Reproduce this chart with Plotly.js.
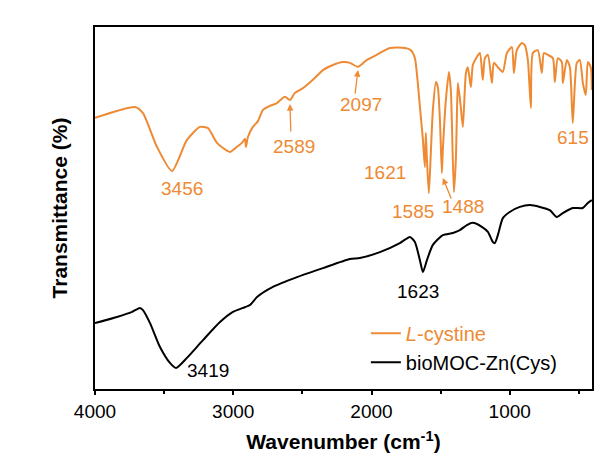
<!DOCTYPE html>
<html>
<head>
<meta charset="utf-8">
<script src="https://cdn.plot.ly/plotly-3.0.1.min.js"></script>
<style>html,body{margin:0;padding:0;background:#fff;}#chart{width:616px;height:459px;}</style>
</head>
<body>
<div id="chart"></div>
<script>
// L-cystine spectrum (wavenumber, transmittance a.u.)
const cystineWn = [4000,3711,3653,3552,3443,3335,3241,3183,3118,3024,2973,2937,2915,2908,2894,2858,2821,2785,2735,2684,2626,2590,2554,2496,2424,2351,2279,2207,2156,2098,2033,1954,1867,1758,1715,1686,1665,1643,1628,1614,1607,1599,1585,1570,1556,1534,1520,1505,1491,1484,1462,1440,1426,1419,1404,1390,1383,1375,1354,1339,1317,1303,1281,1267,1238,1216,1195,1180,1158,1129,1115,1086,1050,1021,985,970,949,913,891,869,847,833,797,768,753,725,688,674,652,623,616,587,565,544,515,493,471,450,435,414,406];
const cystineT = [74.9,77.9,76.2,66.9,60.2,68.8,72.4,72.1,68.0,65.5,66.9,68.0,69.1,66.9,69.6,72.4,74.0,77.1,78.2,79.0,80.7,79.8,81.8,83.1,85.4,88.1,89.5,90.3,90.1,89.0,90.9,92.5,94.2,94.2,93.6,91.4,84.5,75.1,68.8,61.3,70.7,63.3,54.1,66.0,77.1,84.8,83.4,74.3,59.7,66.0,79.8,87.6,82.6,74.3,54.4,63.3,74.3,84.5,77.9,72.4,87.3,88.9,83.4,89.5,91.7,92.8,85.4,91.4,92.3,84.5,90.1,88.9,87.6,92.8,94.5,87.3,93.6,95.6,95.0,90.9,77.6,92.8,93.6,87.3,92.8,92.3,91.4,84.8,91.4,90.3,84.5,90.9,88.9,73.5,90.1,90.9,84.5,81.2,90.3,88.9,82.6];

// bioMOC-Zn(Cys) spectrum
const mocWn = [4000,3841,3732,3675,3653,3602,3530,3458,3414,3335,3219,3096,3002,2929,2879,2828,2713,2539,2351,2156,2084,1939,1795,1722,1686,1650,1628,1599,1556,1484,1411,1361,1310,1267,1202,1158,1122,1108,1086,1050,1000,927,855,782,710,660,616,544,472,435,406];
const mocT = [18.2,19.9,21.3,22.4,21.8,18.2,11.6,7.2,5.8,8.6,13.5,18.5,21.3,22.4,23.2,25.4,28.2,30.9,33.4,35.9,36.2,37.8,40.3,42.0,40.6,35.6,32.3,35.6,39.8,42.5,43.1,43.9,45.3,45.9,44.8,43.4,40.6,40.3,42.5,47.2,48.9,50.3,50.8,50.3,49.4,47.5,48.6,50.0,50.0,51.4,52.2];

// peak labels
const orangeLabels = ["3456","2589","2097","1621","1585","1488","615"];
const orangeLabelWn = [3371,2561,2076,1903,1700,1338,544];
const orangeLabelT = [55.5,67.1,78.7,59.9,48.9,50.3,69.6];
const blackLabels = ["3419","1623"];
const blackLabelWn = [3182,1664];
const blackLabelT = [5.2,26.8];

// arrows: head (wn,T) and tail (wn,T)
const arrowHeadWn = [2590,2098,1484];
const arrowHeadT = [78.7,88.1,58.3];
const arrowTailWn = [2583,2120,1419];
const arrowTailT = [70.7,81.2,52.2];

const orange = '#EE8A33';
const fontFam = 'Arial, "Liberation Sans", sans-serif';

const traces = [
  {x: cystineWn, y: cystineT, type: 'scatter', mode: 'lines', name: "<span style='color:" + orange + "'><i>L</i>-cystine</span>", line: {color: orange, width: 2, shape: 'spline', smoothing: 0.6}},
  {x: mocWn, y: mocT, type: 'scatter', mode: 'lines', name: 'bioMOC-Zn(Cys)', line: {color: '#000000', width: 2, shape: 'spline', smoothing: 0.6}}
];

const annotations = [];
orangeLabels.forEach((t, i) => annotations.push({x: orangeLabelWn[i], y: orangeLabelT[i], xref: 'x', yref: 'y', text: t, showarrow: false, font: {family: fontFam, size: 19, color: orange}}));
blackLabels.forEach((t, i) => annotations.push({x: blackLabelWn[i], y: blackLabelT[i], xref: 'x', yref: 'y', text: t, showarrow: false, font: {family: fontFam, size: 19, color: '#000'}}));
arrowHeadWn.forEach((w, i) => annotations.push({x: w, y: arrowHeadT[i], xref: 'x', yref: 'y', axref: 'x', ayref: 'y', ax: arrowTailWn[i], ay: arrowTailT[i], text: '', showarrow: true, arrowhead: 2, arrowsize: 1, arrowwidth: 1.3, arrowcolor: orange, standoff: 0, startstandoff: 0}));

const layout = {
  width: 616, height: 459,
  margin: {l: 95, r: 24, t: 27, b: 70},
  paper_bgcolor: '#fff', plot_bgcolor: '#fff',
  font: {family: fontFam, size: 19, color: '#000'},
  showlegend: true,
  legend: {x: 0.545, y: 0.208, xanchor: 'left', yanchor: 'top', bgcolor: 'rgba(0,0,0,0)', font: {family: fontFam, size: 20, color: '#000'}, tracegroupgap: 0},
  xaxis: {
    range: [4000, 405], autorange: false,
    tickmode: 'array', tickvals: [4000,3000,2000,1000], ticktext: ['4000','3000','2000','1000'],
    ticks: 'outside', ticklen: 4, tickwidth: 2, tickcolor: '#000',
    minor: {tickvals: [3500,2500,1500,500], ticks: 'outside', ticklen: 3, tickwidth: 2, tickcolor: '#000'},
    showline: true, linewidth: 2, linecolor: '#000', mirror: true,
    showgrid: false, zeroline: false,
    tickfont: {family: fontFam, size: 19, color: '#000'},
    title: {text: '<b>Wavenumber (cm<sup>-1</sup>)</b>', font: {family: fontFam, size: 21, color: '#000'}, standoff: 14}
  },
  yaxis: {
    range: [0, 100], autorange: false,
    showticklabels: false, ticks: '',
    showline: true, linewidth: 2, linecolor: '#000', mirror: true,
    showgrid: false, zeroline: false,
    title: {text: '<b>Transmittance (%)</b>', font: {family: fontFam, size: 21, color: '#000'}, standoff: 20}
  },
  annotations: annotations
};

Plotly.newPlot('chart', traces, layout, {displayModeBar: false, staticPlot: true});
</script>
</body>
</html>
